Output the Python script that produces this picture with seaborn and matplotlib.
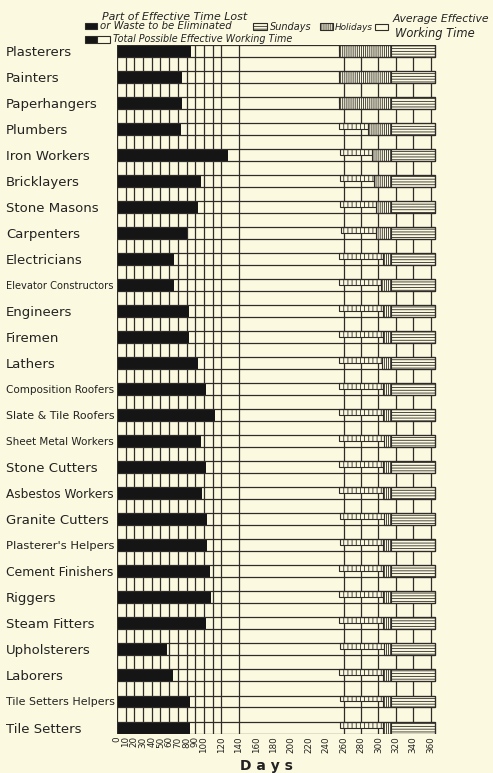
import matplotlib
matplotlib.use("Agg")
import matplotlib.pyplot as plt
import seaborn as sns
import pandas as pd
from matplotlib.patches import Rectangle

# ---------------- data (days of the year) ----------------
trades = ["Plasterers", "Painters", "Paperhangers", "Plumbers", "Iron Workers",
          "Bricklayers", "Stone Masons", "Carpenters", "Electricians",
          "Elevator Constructors", "Engineers", "Firemen", "Lathers",
          "Composition Roofers", "Slate & Tile Roofers", "Sheet Metal Workers",
          "Stone Cutters", "Asbestos Workers", "Granite Cutters",
          "Plasterer's Helpers", "Cement Finishers", "Riggers", "Steam Fitters",
          "Upholsterers", "Laborers", "Tile Setters Helpers", "Tile Setters"]
waste_days = [85, 75, 75, 74, 127, 96, 93, 81, 66, 66, 83, 83, 93, 102, 113,
              97, 102, 98, 103, 103, 107, 108, 102, 57, 65, 84, 84]
effective_end = [255, 255, 255, 255, 256, 256, 256, 257, 255, 255, 255, 255, 255, 255,
                 255, 255, 255, 255, 256, 256, 255, 255, 255, 256, 255, 256, 256]
holiday_start = [255, 255, 255, 288, 293, 295, 297, 297, 305, 303, 305, 305, 304, 305,
                 305, 306, 305, 305, 306, 305, 305, 305, 305, 306, 305, 305, 305]
sunday_start = [314, 314, 314, 314, 314, 314, 314, 314, 314, 314, 314, 314, 314, 314,
                314, 314, 314, 314, 314, 314, 314, 314, 314, 314, 314, 314, 314]
year_end = [365, 365, 365, 365, 365, 365, 365, 365, 365, 365, 365, 365, 365, 365,
            365, 365, 365, 365, 365, 365, 365, 365, 365, 365, 365, 365, 365]
grid_days = [0, 10, 20, 30, 40, 50, 60, 70, 80, 90, 100, 110, 120, 140,
             260, 280, 300, 320, 340, 360]
tick_days = [0, 10, 20, 30, 40, 50, 60, 70, 80, 90, 100, 120, 140, 160, 180,
             200, 220, 240, 260, 280, 300, 320, 340, 360]

df = pd.DataFrame({"trade": trades, "waste": waste_days})

# ---------------- style ----------------
BG = "#FBF9DF"
INK = "#2e2b28"
sns.set_theme(style="white")
plt.rcParams["font.family"] = ["DejaVu Sans"]
plt.rcParams["hatch.linewidth"] = 0.6

W, H = 493, 773
fig = plt.figure(figsize=(W / 100, H / 100), dpi=100, facecolor=BG)

x0, pxd = 116.8, 0.872          # pixel of day 0, pixels per day
top_px, bot_px = 45.0, 733.5
ax = fig.add_axes([x0 / W, 1 - bot_px / H, 375 * pxd / W, (bot_px - top_px) / H])
ax.set_facecolor(BG)

BH = 0.46
ys = list(range(len(trades)))

# grid lines
for d in grid_days:
    ax.axvline(d, color=INK, lw=0.9, zorder=1)

# black "waste" bars via seaborn
sns.barplot(data=df, x="waste", y="trade", color="#151515", saturation=1,
            width=BH, orient="h", ax=ax, linewidth=0, zorder=3)

# comb segment (upper half)
comb_w = [h - e for h, e in zip(holiday_start, effective_end)]
ax.barh([y - BH / 4 for y in ys], comb_w, left=effective_end, height=BH / 2,
        facecolor=BG, edgecolor=INK, hatch="||||", lw=0.8, zorder=3)
# holidays
hol_w = [s - h for s, h in zip(sunday_start, holiday_start)]
ax.barh(ys, hol_w, left=holiday_start, height=BH, facecolor=BG,
        edgecolor=INK, hatch="|" * 8, lw=0.8, zorder=3)
# sundays
sun_w = [e - s for e, s in zip(year_end, sunday_start)]
ax.barh(ys, sun_w, left=sunday_start, height=BH, facecolor=BG,
        edgecolor=INK, hatch="-" * 6, lw=0.8, zorder=3)
# outline of the whole year
ax.barh(ys, year_end, left=0, height=BH, fill=False, edgecolor=INK, lw=0.9, zorder=4)

ax.set_xlim(0, 375)
ax.set_ylim(len(trades) - 1 + 0.23, -0.23)
for s in ax.spines.values():
    s.set_visible(False)
ax.set_xlabel("")
ax.set_ylabel("")

# y labels, left aligned at the figure edge
ax.set_yticks(ys)
ax.set_yticklabels(trades, ha="left", fontsize=8, color="#222222")
ax.tick_params(axis="y", length=0, pad=(x0 - 6) * 72 / 100)

# x ticks
ax.set_xticks(tick_days)
ax.set_xticklabels([str(t) for t in tick_days], rotation=90, fontsize=6.3,
                   color="#222222")
ax.tick_params(axis="x", length=0, pad=2)

r = fig.canvas.get_renderer()
labs = ax.get_yticklabels()
base = labs[0].get_window_extent(r).width
fs = 8 * 66 / base
for lab in labs:
    lab.set_fontsize(fs)
for lab in labs:
    w = lab.get_window_extent(r).width
    if w > 108:
        lab.set_fontsize(fs * 108 / w)

fig.text(266 / W, 1 - 766 / H, "D a y s", ha="center", va="center",
         fontsize=10, fontweight="bold", color="#222222")

# ---------------- legend ----------------
def px(x, y):
    return x / W, 1 - y / H

def box(x, y, w, h, **kw):
    fx, fy = px(x, y + h)
    fig.add_artist(Rectangle((fx, fy), w / W, h / H, transform=fig.transFigure,
                             edgecolor=INK, lw=0.8, **kw))

def ftext(x, y, s, width, size=8, **kw):
    t = fig.text(*px(x, y), s, fontsize=size, style="italic", color="#222222",
                 va="baseline", ha="left", **kw)
    bw = t.get_window_extent(r).width
    t.set_fontsize(size * width / bw)
    return t

box(85, 23, 12, 6, facecolor="#151515")
ftext(102, 20, "Part of Effective Time Lost", 145)
ftext(100, 29, "or Waste to be Eliminated", 132)
box(85, 36, 12, 6.5, facecolor="#151515")
box(97, 36, 13, 6.5, facecolor=BG)
ftext(113, 42, "Total Possible Effective Working Time", 180)
box(253, 23, 14, 7, facecolor=BG, hatch="-" * 6)
ftext(270, 30, "Sundays", 42)
box(320, 23, 13, 7, facecolor=BG, hatch="|" * 8)
ftext(335, 30, "Holidays", 38)
box(375, 24, 13, 6, facecolor=BG)
ftext(393, 22, "Average Effective", 97)
ftext(395, 37, "Working Time", 80)

fig.savefig("out.png", dpi=100, facecolor=BG)
